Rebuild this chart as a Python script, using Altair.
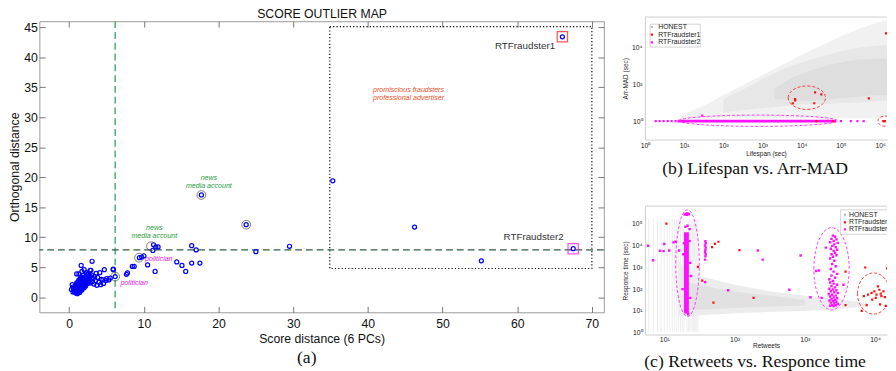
import altair as alt
import pandas as pd

SANS = "Liberation Sans"
SERIF = "Liberation Serif"
BLUE = "#0000ff"
RED = "#ff1010"
MAG = "#ff10ff"
GREEN = "#2a9a3a"
DARK = "#222222"

# ================= (a) SCORE OUTLIER MAP =================
cluster_pts = [
    (0.6, 1.3), (0.7, 0.9), (0.8, 1.1), (0.8, 1.6), (0.9, 0.7), (0.9, 1.3), (0.9, 2.0), (1.0, 0.8),
    (1.0, 1.0), (1.0, 1.5), (1.0, 1.9), (1.0, 2.4), (1.1, 0.6), (1.1, 1.2), (1.1, 1.7), (1.1, 2.2),
    (1.2, 0.9), (1.2, 1.4), (1.2, 1.8), (1.2, 2.6), (1.3, 1.0), (1.3, 1.6), (1.3, 2.1), (1.3, 2.9),
    (1.4, 0.8), (1.4, 1.3), (1.4, 1.9), (1.4, 2.4), (1.5, 1.1), (1.5, 1.6), (1.5, 2.2), (1.5, 2.7),
    (1.5, 3.1), (1.6, 1.4), (1.6, 1.9), (1.6, 2.5), (1.6, 3.4), (1.7, 1.2), (1.7, 1.7), (1.7, 2.2),
    (1.7, 2.9), (1.8, 1.5), (1.8, 2.0), (1.8, 2.6), (1.8, 3.2), (1.9, 1.8), (1.9, 2.3), (1.9, 3.0),
    (1.9, 3.7), (2.0, 1.6), (2.0, 2.1), (2.0, 2.7), (2.0, 3.3), (2.1, 2.0), (2.1, 2.5), (2.1, 3.0),
    (2.2, 1.9), (2.2, 2.4), (2.2, 2.9), (2.2, 3.5), (2.3, 2.2), (2.3, 2.7), (2.3, 3.2), (2.4, 2.5),
    (2.4, 3.0), (2.4, 3.8), (2.5, 2.3), (2.5, 2.8), (2.5, 3.4), (2.6, 2.6), (2.6, 3.1), (2.7, 2.9),
    (2.7, 3.6), (2.8, 2.4), (2.8, 3.3), (2.9, 4.5), (1.3, 3.9), (1.7, 4.3), (2.3, 4.1), (2.6, 4.0),
    (3.0, 3.7), (3.1, 2.6), (3.2, 3.1), (3.3, 2.2), (3.4, 3.5), (3.5, 2.8), (3.6, 4.0), (3.7, 2.0),
    (3.8, 3.3), (4.0, 2.5), (4.1, 4.1), (4.2, 2.1), (4.3, 3.0), (4.5, 2.9), (4.6, 2.3), (4.7, 4.6),
    (4.9, 2.8), (5.0, 3.1), (5.3, 2.9), (5.5, 3.2), (5.9, 4.7), (1.6, 5.3), (3.06, 6.0), (1.0, 3.9),
    (2.0, 4.6), (2.8, 4.5), (0.3, 1.3), (0.5, 1.7), (0.4, 2.1), (0.5, 0.9),
]
mid_pts = [
    (6.15, 3.45), (5.9, 4.6), (7.66, 3.83), (7.8, 4.05), (8.45, 5.15), (8.7, 5.15), (9.4, 6.6),
    (9.7, 6.7), (10.0, 6.9), (10.5, 5.4), (11.5, 4.3), (11.3, 8.75), (11.6, 8.4), (11.9, 8.4),
    (11.2, 7.8), (14.4, 5.9), (15.1, 5.3), (15.6, 4.3), (16.4, 5.7), (17.5, 5.7), (16.4, 8.6),
    (17.0, 7.9), (17.7, 17.05), (23.7, 12.1), (25.0, 7.6), (29.5, 8.5),
]
far_pts = [(35.3, 19.4), (46.25, 11.7), (55.2, 6.07), (66.05, 43.4), (67.5, 8.1)]
circled_pts = [(6.15, 3.45), (9.35, 6.6), (10.95, 8.5), (17.7, 17.05), (23.7, 12.1)]
fraud_pts = [(66.05, 43.4), (67.5, 8.1)]
fraud_names = ["RTFraudster1", "RTFraudster2"]
cutoff_score = [6.15]
cutoff_orth = [7.9]
outlier_box = [(34.9, 70.0, 4.8, 45.1)]
x_ticks_a = [0, 10, 20, 30, 40, 50, 60, 70]
y_ticks_a = [0, 5, 10, 15, 20, 25, 30, 35, 40, 45]

note_text = ["news", "media account", "news", "media account", "politician", "politician"]
note_x = [18.7, 18.7, 11.4, 11.4, 12.0, 8.7]
note_y = [19.95, 18.5, 11.5, 10.2, 6.35, 2.4]
note_kind = ["news", "news", "news", "news", "pol", "pol"]
promo_text = ["promiscious fraudsters", "professional advertiser"]
promo_x = [40.7, 40.7]
promo_y = [34.5, 33.2]
rt_x = [61.05, 62.2]
rt_y = [41.8, 10.05]

# ================= (b) Lifespan vs Arr-MAD (log10 exponents) =================
b_x_range = [0.0, 6.175]
b_y_range = [-1.0, 5.65]
b_outer_x = [0.9, 1.5, 2.0, 2.5, 3.0, 3.5, 4.0, 4.5, 5.0, 5.5, 6.0, 6.2]
b_outer_lo = [0.15, 0.15, 0.15, 0.15, 0.15, 0.15, 0.15, 0.15, 0.15, 0.15, 0.15, 0.15]
b_outer_hi = [0.3, 0.85, 1.4, 1.95, 2.5, 3.05, 3.6, 4.1, 4.6, 5.05, 5.4, 5.5]
b_mid_x = [2.0, 2.5, 3.0, 3.5, 4.0, 4.5, 5.0, 5.5, 6.0, 6.2]
b_mid_lo = [0.5, 0.6, 0.7, 0.8, 0.9, 0.9, 1.0, 1.0, 1.1, 1.1]
b_mid_hi = [1.2, 1.7, 2.3, 2.8, 3.2, 3.5, 3.8, 4.0, 4.1, 4.1]
b_in_x = [3.3, 3.8, 4.3, 4.8, 5.3, 5.8, 6.2]
b_in_lo = [1.2, 1.1, 1.1, 1.2, 1.3, 1.4, 1.4]
b_in_hi = [1.8, 2.4, 2.8, 3.1, 3.3, 3.4, 3.4]
b_mag_band = [(0.83, 4.88, 0.0)]
b_mag_pts = [(0.275, 0), (0.375, 0), (0.475, 0), (0.58, 0), (0.68, 0), (0.78, 0), (5.0, 0),
             (5.25, 0), (5.42, 0), (5.58, 0), (1.46, 0.30)]
b_red_pts = [(3.83, 1.19), (3.83, 1.13), (3.77, 0.96), (4.34, 1.56), (4.5, 1.45), (4.32, 0.97),
             (5.71, 1.23), (6.15, 4.76), (4.375, 0), (4.79, 0), (6.08, 0), (6.12, 0)]
b_ell_center = [(2.89, 0.02), (4.13, 1.27), (6.13, 0.0)]
b_ell_kind = ["RTFraudster2", "RTFraudster1", "RTFraudster1"]
b_leg_box = [(0.13, 1.41, 4.02, 5.26)]
b_leg_rows = [5.11, 4.69, 4.27]

# ================= (c) Retweets vs Responce time =================
c_x_range = [0.725, 4.17]
c_y_range = [-0.08, 5.8]
c_stripes = [5, 6, 7, 8, 9, 10, 11, 12, 13, 14, 15, 16, 17, 18, 19, 21, 22, 23, 24, 25, 26, 27, 28, 29, 30]
c_outer_x = [1.2, 1.3, 1.5, 2.0, 2.5, 3.0, 3.5, 3.9]
c_outer_lo = [0.75, 0.75, 0.8, 0.9, 0.95, 1.0, 1.1, 1.2]
c_outer_hi = [3.3, 2.95, 2.6, 2.2, 1.9, 1.7, 1.55, 1.35]
c_in_x = [1.3, 1.5, 1.8, 2.1, 2.5, 3.0]
c_in_lo = [1.05, 1.05, 1.1, 1.15, 1.2, 1.25]
c_in_hi = [2.3, 2.2, 2.0, 1.85, 1.7, 1.5]
c_mag_band = [(1.315, 0.9, 4.6)]
c_mag_pts = [
    # column near 20 retweets
    (1.36, 4.75), (1.30, 4.85), (1.33, 4.9), (1.29, 5.42), (1.31, 5.45), (1.33, 5.47), (1.35, 5.43),
    (1.32, 5.40), (1.37, 3.2), (1.27, 3.6), (1.38, 2.6), (1.26, 2.0), (1.37, 1.6), (1.34, 0.85),
    (1.31, 0.95), (1.36, 4.2), (1.28, 4.1),
    # column near 40 retweets
    (1.585, 4.2), (1.59, 4.1), (1.58, 4.0), (1.59, 3.9), (1.585, 3.8), (1.58, 3.7), (1.59, 3.6),
    (1.585, 3.5), (1.58, 3.35), (1.58, 2.32),
    # column near 2500 retweets
    (3.40, 4.45), (3.43, 4.40), (3.38, 4.30), (3.45, 4.28), (3.41, 4.20), (3.36, 4.15), (3.47, 4.12),
    (3.42, 4.05), (3.39, 3.98), (3.44, 3.92), (3.37, 3.85), (3.46, 3.80), (3.41, 3.75), (3.43, 3.66),
    (3.38, 3.60), (3.45, 3.55), (3.40, 3.48), (3.36, 3.40), (3.42, 3.30), (3.39, 3.15), (3.44, 3.05),
    (3.37, 2.92), (3.41, 2.80), (3.46, 2.70), (3.38, 2.62), (3.43, 2.52), (3.35, 2.45), (3.40, 2.38),
    (3.36, 2.30), (3.41, 2.25), (3.46, 2.20), (3.38, 2.14), (3.43, 2.08), (3.35, 2.02), (3.40, 1.98),
    (3.45, 1.95), (3.37, 1.90), (3.42, 1.86), (3.47, 1.82), (3.34, 1.78), (3.39, 1.74), (3.44, 1.70),
    (3.36, 1.66), (3.41, 1.62), (3.46, 1.58), (3.38, 1.55), (3.43, 1.51), (3.35, 1.48), (3.40, 1.45),
    (3.45, 1.42), (3.37, 1.38), (3.42, 1.35), (3.47, 1.32), (3.39, 1.28), (3.44, 1.26), (3.36, 1.24),
    (3.41, 1.22), (3.20, 2.85), (3.24, 1.60), (3.55, 2.2), (3.30, 3.9),
    # scattered
    (0.70, 3.87), (0.77, 3.99), (0.84, 3.32), (0.94, 3.76), (1.0, 4.07), (0.99, 3.74), (1.07, 3.77),
    (1.13, 4.14), (1.16, 4.17), (1.21, 3.77), (1.91, 1.95), (2.33, 3.77), (2.40, 3.35), (2.94, 3.54),
    (2.78, 1.97), (3.08, 1.63), (3.16, 2.83),
]
c_red_pts = [
    (1.03, 5.0), (0.70, 3.09), (1.48, 3.02), (1.68, 3.92), (1.72, 4.07), (1.77, 4.17), (1.54, 2.39),
    (1.70, 1.38), (2.27, 1.6), (2.07, 3.79), (3.58, 2.8), (3.58, 1.27), (3.86, 2.99), (4.17, 2.95),
    (3.81, 1.0), (3.84, 1.68), (3.90, 1.75), (3.95, 1.83), (3.99, 1.90), (4.02, 1.75), (4.06, 1.97),
    (4.08, 1.79), (4.09, 1.68), (4.12, 1.90), (4.14, 1.63), (4.01, 1.60), (3.96, 1.52), (3.88, 1.27),
    (4.07, 1.30), (4.15, 1.23), (4.04, 2.13),
]
c_ell_center = [(1.33, 3.19), (3.38, 2.93), (3.98, 1.80)]
c_ell_kind = ["RTFraudster2", "RTFraudster2", "RTFraudster1"]
c_leg_box = [(3.51, 4.6, 4.51, 5.63)]
c_leg_rows = [5.41, 5.06, 4.74]

legend_labels = ["HONEST", "RTFraudster1", "RTFraudster2"]

# ---------------- styles (pixel sizes of the dashed ellipses) ----------------
b_ell_w = [162, 38, 15]
b_ell_h = [11.5, 24, 10.5]
c_ell_w = [24, 36, 33]
c_ell_h = [109, 84, 42]
KIND_COLOR = {"RTFraudster1": RED, "RTFraudster2": MAG, "HONEST": "#bdbdbd"}
NOTE_COLOR = {"news": GREEN, "pol": "#e020e0"}


def ellipse_path(ratio):
    k = 0.5523
    r = ratio
    return (f"M-1,0C-1,{-k*r:.4f} {-k:.4f},{-r:.4f} 0,{-r:.4f}"
            f"C{k:.4f},{-r:.4f} 1,{-k*r:.4f} 1,0"
            f"C1,{k*r:.4f} {k:.4f},{r:.4f} 0,{r:.4f}"
            f"C{-k:.4f},{r:.4f} -1,{k*r:.4f} -1,0Z")


def p10(v):
    return 10 ** v


# ======================= chart (a) =======================
XA = alt.Scale(domain=[-4, 71.6], nice=False, zero=False)
YA = alt.Scale(domain=[-2.5, 46], nice=False, zero=False)
ax_common = dict(grid=False, domain=False, labelFont=SANS, titleFont=SANS, labelColor="#111",
                 titleColor="#111", tickColor="#555", tickWidth=0.8, titleFontWeight="normal",
                 labelFlush=False)
ax_a_bottom = alt.Axis(orient="bottom", values=x_ticks_a, offset=-6, tickSize=6, labelFontSize=12.5,
                       labelPadding=6, title="Score distance (6 PCs)", titleFontSize=12.5,
                       titlePadding=2, **ax_common)
ax_a_left = alt.Axis(orient="left", values=y_ticks_a, offset=-6, tickSize=6, labelFontSize=12.5,
                     labelPadding=2, title="Orthogonal distance", titleFontSize=12.5,
                     titlePadding=2, **ax_common)
ax_a_top = alt.Axis(orient="top", values=x_ticks_a, offset=-6, tickSize=6, labels=False,
                    title="SCORE OUTLIER MAP", titleFontSize=12.5, titlePadding=0, **ax_common)
ax_a_right = alt.Axis(orient="right", values=y_ticks_a, offset=-6, tickSize=6, labels=False,
                      title=None, **ax_common)

pts_a = pd.DataFrame(cluster_pts + mid_pts + far_pts, columns=["x", "y"])
circ_df = pd.DataFrame(circled_pts, columns=["x", "y"])
fraud_df = pd.DataFrame({"x": [p[0] for p in fraud_pts], "y": [p[1] for p in fraud_pts],
                         "col": [KIND_COLOR[n] for n in fraud_names]})
box_df = pd.DataFrame(outlier_box, columns=["x1", "x2", "y1", "y2"])
notes_df = pd.DataFrame({"t": note_text, "x": note_x, "y": note_y,
                         "col": [NOTE_COLOR[k] for k in note_kind]})
promo_df = pd.DataFrame({"t": promo_text, "x": promo_x, "y": promo_y})
rt_df = pd.DataFrame({"t": fraud_names, "x": rt_x, "y": rt_y})


def xa(f="x", axis=None):
    return alt.X(f"{f}:Q", scale=XA, axis=axis)


def ya(f="y", axis=None):
    return alt.Y(f"{f}:Q", scale=YA, axis=axis)


a_box = alt.Chart(box_df).mark_rect(fillOpacity=0, stroke="#000", strokeDash=[1.2, 2.2],
                                    strokeWidth=1.2).encode(
    x=xa("x1"), x2="x2:Q", y=ya("y1"), y2="y2:Q")
a_vrule = alt.Chart(pd.DataFrame({"v": cutoff_score})).mark_rule(
    color="#1c9a4e", strokeDash=[7, 4], strokeWidth=1.2).encode(x=xa("v"))
a_hrule = alt.Chart(pd.DataFrame({"v": cutoff_orth})).mark_rule(
    color="#2f5f45", strokeDash=[7, 4], strokeWidth=1.2).encode(y=ya("v"))
a_pts = alt.Chart(pts_a).mark_point(shape="circle", size=17, filled=False, color=BLUE,
                                    strokeWidth=1.25, opacity=1).encode(
    x=xa("x", ax_a_bottom), y=ya("y", ax_a_left))
a_axes2 = alt.Chart(pts_a.head(1)).mark_point(opacity=0).encode(
    x=xa("x", ax_a_top), y=ya("y", ax_a_right))
a_circ = alt.Chart(circ_df).mark_point(shape="circle", size=80, filled=False, color="#444",
                                       strokeWidth=1).encode(x=xa(), y=ya())
a_sq = alt.Chart(fraud_df).mark_point(shape="square", size=110, filled=False,
                                      strokeWidth=1.3).encode(
    x=xa(), y=ya(), color=alt.Color("col:N", scale=None))
a_notes = alt.Chart(notes_df).mark_text(font=SANS, fontSize=7.2, fontStyle="italic",
                                        align="center", baseline="middle").encode(
    x=xa(), y=ya(), text="t:N", color=alt.Color("col:N", scale=None))
a_promo = alt.Chart(promo_df).mark_text(font=SANS, fontSize=7.2, fontStyle="italic",
                                        align="left", baseline="middle",
                                        color="#e8502a").encode(x=xa(), y=ya(), text="t:N")
a_rt = alt.Chart(rt_df).mark_text(font=SANS, fontSize=10, align="center", baseline="middle",
                                  color="#333").encode(x=xa(), y=ya(), text="t:N")

main = alt.layer(a_box, a_vrule, a_hrule, a_pts, a_circ, a_sq, a_notes, a_promo, a_rt,
                 a_axes2).resolve_axis(x="independent", y="independent").properties(
    width=576, height=297,
    view=alt.ViewBackground(stroke="#9a9a9a", strokeWidth=1),
    title=alt.TitleParams("(a)", orient="bottom", frame="bounds", anchor="middle", font=SERIF,
                          fontSize=18, fontWeight="normal", color="#111", offset=5))

# ======================= small panels helpers =======================
SUP = ("['10\u2070','10\u00b9','10\u00b2','10\u00b3','10\u2074','10\u2075','10\u2076']"
       "[round(log(datum.value)/LN10)]")
small_ax = dict(grid=False, labelFont=SANS, titleFont=SANS, labelColor="#222", titleColor="#222",
                titleFontWeight="normal", domainColor="#cfcfcf", labelFlush=False, ticks=False)


def area_df(xs, lo, hi):
    return pd.DataFrame({"x": [p10(v) for v in xs], "lo": [p10(v) for v in lo],
                         "hi": [p10(v) for v in hi]})


def pts_df(pairs):
    return pd.DataFrame({"x": [p10(p[0]) for p in pairs], "y": [p10(p[1]) for p in pairs]})


def ell_df(centers, kinds, ws, hs):
    return pd.DataFrame({
        "x": [p10(c[0]) for c in centers], "y": [p10(c[1]) for c in centers],
        "shape": [ellipse_path(h / w) for w, h in zip(ws, hs)],
        "size": [w * w for w in ws], "col": [KIND_COLOR[k] for k in kinds]})


def legend_layers(box, rows, marker_x, text_x, sx, sy):
    bdf = pd.DataFrame({"x1": [p10(box[0][0])], "x2": [p10(box[0][1])],
                        "y1": [p10(box[0][2])], "y2": [p10(box[0][3])]})
    ldf = pd.DataFrame({"mx": [p10(marker_x)] * 3, "tx": [p10(text_x)] * 3,
                        "y": [p10(r) for r in rows], "t": legend_labels,
                        "col": [KIND_COLOR[k] for k in legend_labels]})
    r = alt.Chart(bdf).mark_rect(fill="white", stroke="#c8c8c8", strokeWidth=0.8, clip=True).encode(
        x=alt.X("x1:Q", scale=sx, axis=None), x2="x2:Q",
        y=alt.Y("y1:Q", scale=sy, axis=None), y2="y2:Q")
    m = alt.Chart(ldf).mark_square(size=5, clip=True, opacity=1).encode(
        x=alt.X("mx:Q", scale=sx, axis=None), y=alt.Y("y:Q", scale=sy, axis=None),
        color=alt.Color("col:N", scale=None))
    t = alt.Chart(ldf).mark_text(font=SANS, fontSize=7, align="left", baseline="middle",
                                 color="#222", clip=True).encode(
        x=alt.X("tx:Q", scale=sx, axis=None), y=alt.Y("y:Q", scale=sy, axis=None), text="t:N")
    return [r, m, t]


def top_line(y_exp, sy):
    return alt.Chart(pd.DataFrame({"y": [p10(y_exp)]})).mark_rule(
        color="#cfcfcf", strokeWidth=1).encode(y=alt.Y("y:Q", scale=sy, axis=None))


# ======================= chart (b) =======================
BX = alt.Scale(type="log", domain=[p10(b_x_range[0]), p10(b_x_range[1])], nice=False)
BY = alt.Scale(type="log", domain=[p10(b_y_range[0]), p10(b_y_range[1])], nice=False)
ax_b_bottom = alt.Axis(orient="bottom", values=[1, 10, 100, 1e3, 1e4, 1e5, 1e6], labelExpr=SUP,
                       labelFontSize=7, labelPadding=2, title="Lifespan (sec)", titleFontSize=6.6,
                       titlePadding=2, **small_ax)
ax_b_left = alt.Axis(orient="left", values=[1, 100, 1e4], labelExpr=SUP, labelFontSize=7,
                     labelPadding=3, title="Arr-MAD (sec)", titleFontSize=6.6, titlePadding=3,
                     **small_ax)


def bx(f="x", axis=None):
    return alt.X(f"{f}:Q", scale=BX, axis=axis)


def by(f="y", axis=None):
    return alt.Y(f"{f}:Q", scale=BY, axis=axis)


b_a1 = alt.Chart(area_df(b_outer_x, b_outer_lo, b_outer_hi)).mark_area(
    color="#f1f1f1", clip=True).encode(x=bx("x", ax_b_bottom), y=by("lo", ax_b_left), y2="hi:Q")
b_a2 = alt.Chart(area_df(b_mid_x, b_mid_lo, b_mid_hi)).mark_area(
    color="#e7e7e7", clip=True).encode(x=bx(), y=by("lo"), y2="hi:Q")
b_a3 = alt.Chart(area_df(b_in_x, b_in_lo, b_in_hi)).mark_area(
    color="#dedede", clip=True).encode(x=bx(), y=by("lo"), y2="hi:Q")
band_b = pd.DataFrame({"x1": [p10(b[0]) for b in b_mag_band], "x2": [p10(b[1]) for b in b_mag_band],
                       "y": [p10(b[2]) for b in b_mag_band]})
b_band = alt.Chart(band_b).mark_rule(color=MAG, strokeWidth=3, clip=True).encode(
    x=bx("x1"), x2="x2:Q", y=by())
b_ell = alt.Chart(ell_df(b_ell_center, b_ell_kind, b_ell_w, b_ell_h)).mark_point(
    filled=False, strokeDash=[3, 2], strokeWidth=0.8, clip=True, opacity=1).encode(
    x=bx(), y=by(), shape=alt.Shape("shape:N", scale=None), size=alt.Size("size:Q", scale=None),
    color=alt.Color("col:N", scale=None))
b_mag = alt.Chart(pts_df(b_mag_pts)).mark_square(size=5, color=MAG, clip=True, opacity=1).encode(
    x=bx(), y=by())
b_red = alt.Chart(pts_df(b_red_pts)).mark_square(size=5, color=RED, clip=True, opacity=1).encode(
    x=bx(), y=by())

panel_b = alt.layer(b_a1, b_a2, b_a3, b_band, b_ell, b_mag, b_red,
                    *legend_layers(b_leg_box, b_leg_rows, 0.175, 0.34, BX, BY),
                    top_line(b_y_range[1], BY)).resolve_axis(
    x="independent", y="independent").properties(
    width=247, height=125, view=alt.ViewBackground(stroke="transparent"),
    title=alt.TitleParams("(b) Lifespan vs. Arr-MAD", orient="bottom", frame="bounds",
                          anchor="middle", font=SERIF, fontSize=18, fontWeight="normal",
                          color="#111", offset=4))

# ======================= chart (c) =======================
CX = alt.Scale(type="log", domain=[p10(c_x_range[0]), p10(c_x_range[1])], nice=False)
CY = alt.Scale(type="log", domain=[p10(c_y_range[0]), p10(c_y_range[1])], nice=False)
ax_c_bottom = alt.Axis(orient="bottom", values=[10, 100, 1e3, 1e4], labelExpr=SUP,
                       labelFontSize=7, labelPadding=1, title="Retweets", titleFontSize=6.6,
                       titlePadding=0, **small_ax)
ax_c_left = alt.Axis(orient="left", values=[1, 10, 100, 1e3, 1e4, 1e5], labelExpr=SUP,
                     labelFontSize=7, labelPadding=3, title="Responce time (sec)",
                     titleFontSize=6.6, titlePadding=3, **small_ax)


def cx(f="x", axis=None):
    return alt.X(f"{f}:Q", scale=CX, axis=axis)


def cy(f="y", axis=None):
    return alt.Y(f"{f}:Q", scale=CY, axis=axis)


stripes_df = pd.DataFrame({"x": c_stripes, "lo": [p10(0.05)] * len(c_stripes),
                           "hi": [p10(5.2)] * len(c_stripes)})
c_str = alt.Chart(stripes_df).mark_rule(color="#eeeeee", strokeWidth=1, clip=True).encode(
    x=cx("x", ax_c_bottom), y=cy("lo", ax_c_left), y2="hi:Q")
c_a1 = alt.Chart(area_df(c_outer_x, c_outer_lo, c_outer_hi)).mark_area(
    color="#ececec", clip=True).encode(x=cx(), y=cy("lo"), y2="hi:Q")
c_a2 = alt.Chart(area_df(c_in_x, c_in_lo, c_in_hi)).mark_area(
    color="#e1e1e1", clip=True).encode(x=cx(), y=cy("lo"), y2="hi:Q")
band_c = pd.DataFrame({"x": [p10(b[0]) for b in c_mag_band], "y1": [p10(b[1]) for b in c_mag_band],
                       "y2": [p10(b[2]) for b in c_mag_band]})
c_band = alt.Chart(band_c).mark_rule(color=MAG, strokeWidth=5, clip=True).encode(
    x=cx(), y=cy("y1"), y2="y2:Q")
c_ell = alt.Chart(ell_df(c_ell_center, c_ell_kind, c_ell_w, c_ell_h)).mark_point(
    filled=False, strokeDash=[3, 2], strokeWidth=0.8, clip=True, opacity=1).encode(
    x=cx(), y=cy(), shape=alt.Shape("shape:N", scale=None), size=alt.Size("size:Q", scale=None),
    color=alt.Color("col:N", scale=None))
c_mag = alt.Chart(pts_df(c_mag_pts)).mark_square(size=6, color=MAG, clip=True, opacity=1).encode(
    x=cx(), y=cy())
c_red = alt.Chart(pts_df(c_red_pts)).mark_square(size=5, color=RED, clip=True, opacity=1).encode(
    x=cx(), y=cy())

panel_c = alt.layer(c_str, c_a1, c_a2, c_band, c_ell, c_mag, c_red,
                    *legend_layers(c_leg_box, c_leg_rows, 3.57, 3.63, CX, CY),
                    top_line(c_y_range[1], CY)).resolve_axis(
    x="independent", y="independent").properties(
    width=247, height=131, view=alt.ViewBackground(stroke="transparent"),
    title=alt.TitleParams("(c) Retweets vs. Responce time", orient="bottom", frame="bounds",
                          anchor="middle", font=SERIF, fontSize=18, fontWeight="normal",
                          color="#111", offset=5))

right = alt.vconcat(panel_b, panel_c, spacing=26)
chart = alt.hconcat(main, right, spacing=16, center=True).properties(
    padding={"top": -5, "left": 0, "right": 0, "bottom": 0}).configure(
    font=SANS).configure_view(stroke="transparent").configure_axis(grid=False)

chart.save("out.html", embed_options={"renderer": "svg", "actions": False})
